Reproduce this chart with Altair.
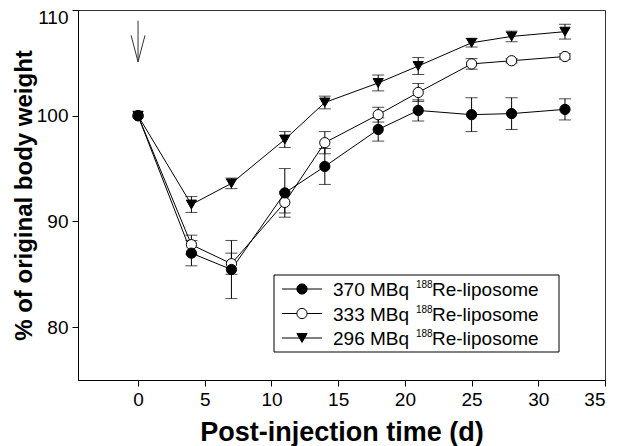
import altair as alt
import pandas as pd

# ---------------- data ----------------
days = [0, 4, 7, 11, 14, 18, 21, 25, 28, 32]
series = ["370 MBq", "333 MBq", "296 MBq"]
w370 = [100.0, 87.0, 85.45, 92.7, 95.2, 98.7, 100.5, 100.1, 100.2, 100.6]
sd370 = [0.0, 1.2, 2.75, 2.3, 1.7, 1.1, 1.0, 1.6, 1.5, 1.0]
w333 = [100.0, 87.8, 86.0, 91.8, 97.45, 100.1, 102.2, 104.9, 105.2, 105.6]
sd333 = [0.0, 0.9, 1.0, 1.0, 1.05, 0.7, 0.85, 0.5, 0.2, 0.25]
w296 = [100.0, 91.6, 93.6, 97.75, 101.25, 103.1, 104.7, 106.9, 107.5, 107.95]
sd296 = [0.0, 0.75, 0.5, 0.75, 0.6, 0.75, 0.8, 0.4, 0.5, 0.7]
x_ticks = [0, 5, 10, 15, 20, 25, 30, 35]
y_ticks = [80, 90, 100, 110]
legend_labels = ["370 MBq", "333 MBq", "296 MBq"]
legend_sup = "188"
legend_tail = "Re-liposome"
# injection arrow (day, % weight)
arrow_day = 0
arrow_top, arrow_tip, arrow_head = 109.0, 105.1, 107.6
arrow_half = 0.52

rows = []
for name, vals, sds in zip(series, [w370, w333, w296], [sd370, sd333, sd296]):
    for d, v, s in zip(days, vals, sds):
        rows.append({"series": name, "day": d, "w": v, "lo": v - s, "hi": v + s})
df = pd.DataFrame(rows)
df_err = df[df["hi"] > df["lo"]]
# draw the filled-circle series last so it sits on top at day 0
draw_rank = {"333 MBq": 0, "296 MBq": 1, "370 MBq": 2}
df_pts = df.assign(r=df["series"].map(draw_rank)).sort_values(["r", "day"]).drop(columns="r")

FONT = "Liberation Sans"
XT = "Post-injection time (d)"
YT = "% of original body weight"

xscale = alt.Scale(domain=[-4.5, 35], nice=False, zero=False)
yscale = alt.Scale(domain=[75, 110], nice=False, zero=False)
xaxis = alt.Axis(values=x_ticks, format="d", titleFontSize=27, titleFontWeight="bold",
                 titleY=60, titleBaseline="alphabetic", labelPadding=4)
yaxis = alt.Axis(values=y_ticks, format="d", titleFontSize=24, titleFontWeight="bold",
                 titleAngle=-90, titleX=-47, titleY=185, titleAlign="center",
                 titleBaseline="alphabetic", labelPadding=4,
                 labelFlush=True, labelFlushOffset=2)


def X(f):
    return alt.X(f"{f}:Q", scale=xscale, axis=xaxis, title=XT)


def Y(f):
    return alt.Y(f"{f}:Q", scale=yscale, axis=yaxis, title=YT)


shape_scale = alt.Scale(domain=series, range=["circle", "circle", "triangle-down"])
fill_scale = alt.Scale(domain=series, range=["black", "white", "black"])

lines = alt.Chart(df).mark_line(color="black", strokeWidth=1).encode(
    x=X("day"), y=Y("w"), detail="series:N")
bars = alt.Chart(df_err).mark_rule(color="black", strokeWidth=1).encode(
    x=X("day"), y=Y("lo"), y2="hi:Q")
cap_lo = alt.Chart(df_err).mark_tick(color="black", orient="horizontal", size=12, thickness=1).encode(
    x=X("day"), y=Y("lo"))
cap_hi = alt.Chart(df_err).mark_tick(color="black", orient="horizontal", size=12, thickness=1).encode(
    x=X("day"), y=Y("hi"))
points = alt.Chart(df_pts).mark_point(filled=False, stroke="black", strokeWidth=1, size=105, opacity=1).encode(
    x=X("day"), y=Y("w"),
    shape=alt.Shape("series:N", scale=shape_scale, legend=None),
    fill=alt.Fill("series:N", scale=fill_scale, legend=None),
)

arrow_shaft = alt.Chart(pd.DataFrame({"day": [arrow_day], "w": [arrow_top], "w2": [arrow_tip]})).mark_rule(
    color="#333", strokeWidth=1).encode(x=X("day"), y=Y("w"), y2="w2:Q")
arrow_head_df = pd.DataFrame({
    "day": [arrow_day - arrow_half, arrow_day, arrow_day + arrow_half],
    "w": [arrow_head, arrow_tip, arrow_head],
    "o": [0, 1, 2],
})
arrow_h = alt.Chart(arrow_head_df).mark_line(color="#333", strokeWidth=1).encode(
    x=X("day"), y=Y("w"), order="o:Q")

# ---------------- custom legend (pixel positions inside plot) ----------------
one = pd.DataFrame({"k": [0]})
leg = [alt.Chart(one).mark_rect(fill="white", stroke="black", strokeWidth=1).encode(
    x=alt.value(196), x2=alt.value(481), y=alt.value(265), y2=alt.value(342))]
row_y = [279, 303.5, 328]
shapes = ["circle", "circle", "triangle-down"]
fills = ["black", "white", "black"]
for lab, ry, shp, fc in zip(legend_labels, row_y, shapes, fills):
    leg.append(alt.Chart(one).mark_rule(color="black", strokeWidth=1).encode(
        x=alt.value(204), x2=alt.value(244), y=alt.value(ry)))
    leg.append(alt.Chart(one).mark_point(shape=shp, fill=fc, stroke="black", strokeWidth=1,
                                         size=105, opacity=1, filled=False).encode(
        x=alt.value(224), y=alt.value(ry)))
    leg.append(alt.Chart(one).mark_text(font=FONT, fontSize=19, align="left", baseline="middle",
                                        color="black").encode(
        x=alt.value(255), y=alt.value(ry + 1), text=alt.value(lab)))
    leg.append(alt.Chart(one).mark_text(font=FONT, fontSize=10, align="left", baseline="middle",
                                        color="black").encode(
        x=alt.value(338), y=alt.value(ry - 4), text=alt.value(legend_sup)))
    leg.append(alt.Chart(one).mark_text(font=FONT, fontSize=19, align="left", baseline="middle",
                                        color="black").encode(
        x=alt.value(354), y=alt.value(ry + 1), text=alt.value(legend_tail)))

chart = alt.layer(lines, bars, cap_lo, cap_hi, points, arrow_shaft, arrow_h, *leg).properties(
    width=527, height=370,
    autosize=alt.AutoSizeParams(type="none"),
    padding={"left": 70, "top": 2, "right": 4, "bottom": 66},
).configure(font=FONT).configure_view(
    stroke="#333", strokeWidth=1
).configure_axis(
    grid=False, domainColor="black", domainWidth=1, tickColor="black", tickSize=6,
    labelFont=FONT, labelFontSize=19, labelColor="black", titleFont=FONT, titleColor="black",
)

chart.save("out.html", embed_options={"renderer": "svg", "actions": False})
